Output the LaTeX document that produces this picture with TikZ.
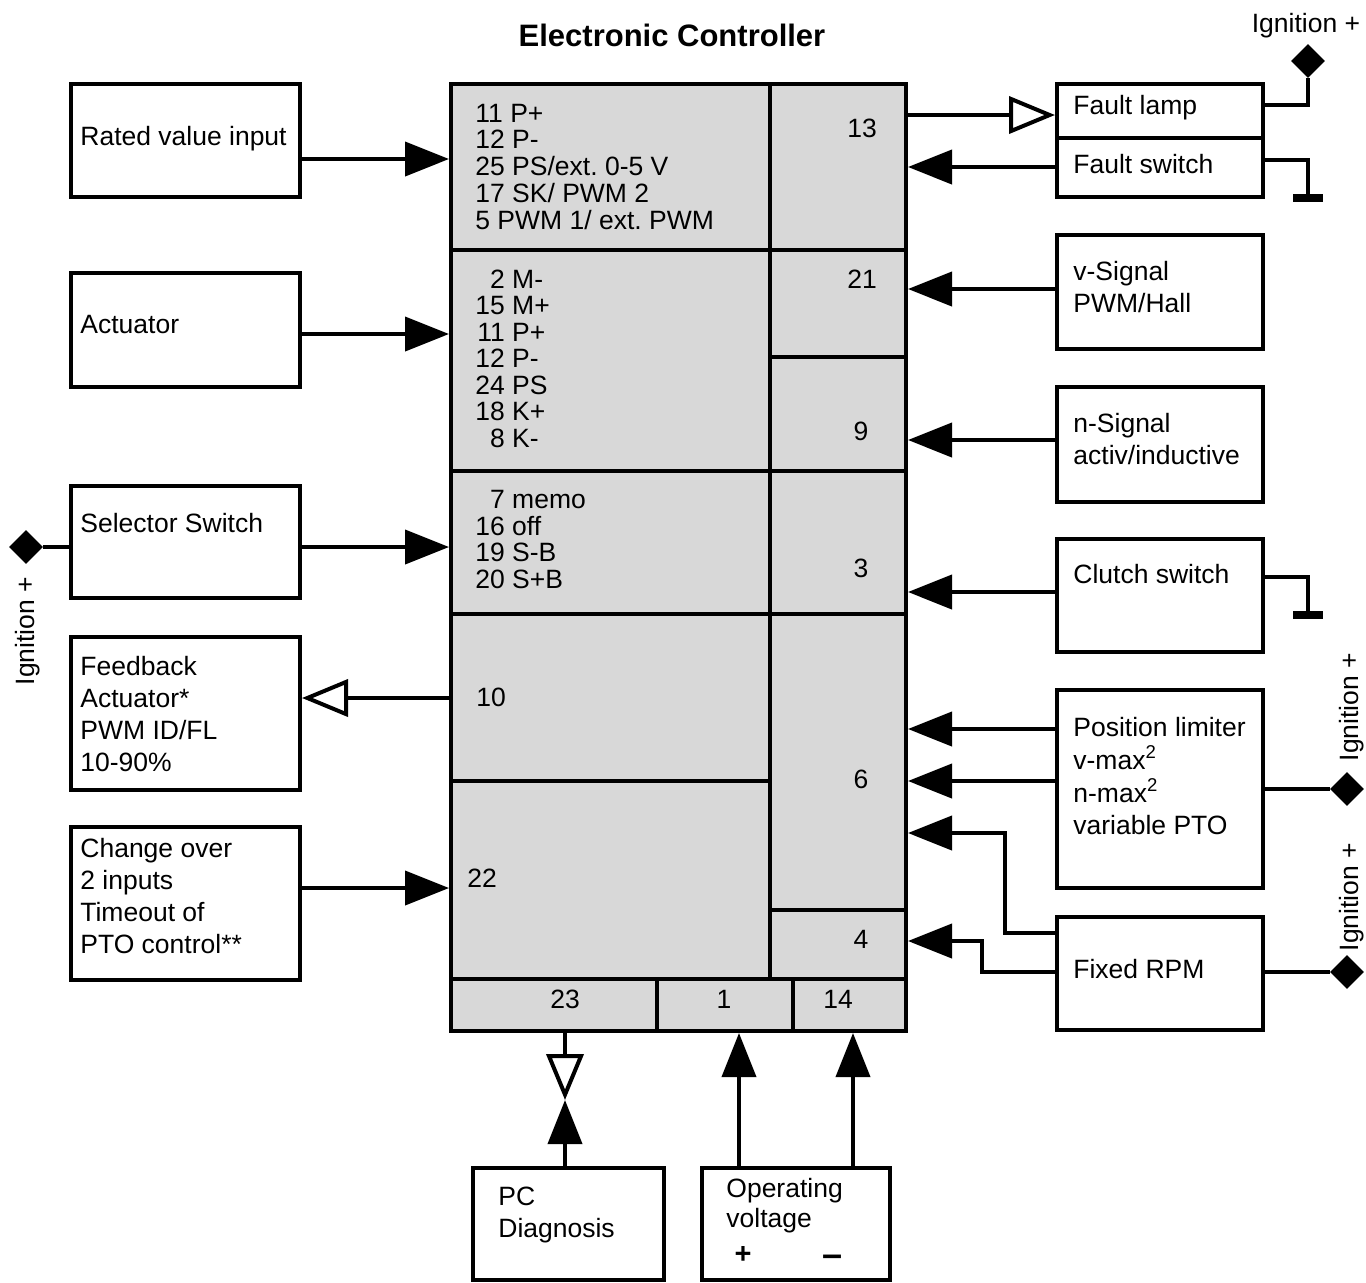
\documentclass[tikz,border=0pt]{standalone}
\usepackage{fontspec}
\setmainfont{Liberation Sans}
\usetikzlibrary{arrows.meta,shapes.geometric,fit}
\definecolor{cellgray}{RGB}{216,216,216}
\frenchspacing
\begin{document}
\begin{tikzpicture}[x=0.5pt,y=-0.5pt,
  cell/.style={draw, fill=cellgray, line width=2pt, inner sep=0pt},
  box/.style={draw, line width=2pt, inner sep=0pt},
  txt/.style={anchor=base west, inner sep=0pt, font=\fontsize{13.25}{16}\selectfont},
  lst/.style={anchor=base west, inner sep=0pt, font=\fontsize{13.25}{13.25}\selectfont},
  num/.style={anchor=base, inner sep=0pt, font=\fontsize{13.25}{16}\selectfont},
  arr/.style={line width=2pt, -{Triangle[length=22pt,width=17pt]}},
  oarr/.style={line width=2pt, -{Triangle[open,length=23pt,width=18.5pt]}},
  wire/.style={line width=2pt},
  gbar/.style={line width=4pt},
  dia/.style={diamond, fill=black, inner sep=0pt, minimum width=17pt, minimum height=17pt},
  rot/.style={rotate=90, inner sep=0pt, font=\fontsize{13.25}{16}\selectfont},
]
\useasboundingbox (0,0) rectangle (1366,1282);

% title
\node[anchor=base, inner sep=0pt, font=\bfseries\fontsize{15.5}{18}\selectfont] (title) at (672,46) {Electronic Controller};

% controller cells
\node[cell, fit={(451,84)(770,250)}] (r1) {};
\node[cell, fit={(451,250)(770,471)}] (r2) {};
\node[cell, fit={(451,471)(770,614)}] (r3) {};
\node[cell, fit={(451,614)(770,781)}] (r10) {};
\node[cell, fit={(451,781)(770,979)}] (r22) {};
\node[cell, fit={(770,84)(906,250)}] (c13) {};
\node[cell, fit={(770,250)(906,357)}] (c21) {};
\node[cell, fit={(770,357)(906,471)}] (c9) {};
\node[cell, fit={(770,471)(906,614)}] (c3) {};
\node[cell, fit={(770,614)(906,910)}] (c6) {};
\node[cell, fit={(770,910)(906,979)}] (c4) {};
\node[cell, fit={(451,979)(657,1031)}] (b23) {};
\node[cell, fit={(657,979)(793,1031)}] (b1) {};
\node[cell, fit={(793,979)(906,1031)}] (b14) {};

% controller texts
\node[lst] (t1) at (475,122) {\begin{tabular}[t]{@{}l@{}}11 P+\\12 P-\\25 PS/ext. 0-5 V\\17 SK/ PWM 2\\5 PWM 1/ ext. PWM\end{tabular}};
\node[lst] (t2) at (475,288) {\begin{tabular}[t]{@{}r@{\ }l@{}}2&M-\\15&M+\\11&P+\\12&P-\\24&PS\\18&K+\\8&K-\end{tabular}};
\node[lst] (t3) at (475,508) {\begin{tabular}[t]{@{}r@{\ }l@{}}7&memo\\16&off\\19&S-B\\20&S+B\end{tabular}};
\node[txt] (t10) at (476,706) {10};
\node[txt] (t22) at (467,887) {22};
\node[num] (n13) at (862,137) {13};
\node[num] (n21) at (862,288) {21};
\node[num] (n9) at (861,440) {9};
\node[num] (n3) at (861,577) {3};
\node[num] (n6) at (861,788) {6};
\node[num] (n4) at (861,948) {4};
\node[num] (n23) at (565,1008) {23};
\node[num] (n1) at (724,1008) {1};
\node[num] (n14) at (838,1008) {14};

% left boxes
\node[box, fit={(71,84)(300,197)}] (rated) {};
\node[txt] (trated) at (80,145) {Rated value input};
\node[box, fit={(71,273)(300,387)}] (act) {};
\node[txt] (tact) at (80,333) {Actuator};
\node[box, fit={(71,486)(300,598)}] (sel) {};
\node[txt] (tsel) at (80,532) {Selector Switch};
\node[box, fit={(71,637)(300,790)}] (fb) {};
\node[txt] (tfb) at (80,675) {\begin{tabular}[t]{@{}l@{}}Feedback\\Actuator*\\PWM ID/FL\\10-90\%\end{tabular}};
\node[box, fit={(71,827)(300,980)}] (co) {};
\node[txt] (tco) at (80,857) {\begin{tabular}[t]{@{}l@{}}Change over\\2 inputs\\Timeout of\\PTO control**\end{tabular}};

% right boxes
\node[box, fit={(1057,84)(1263,138)}] (fl) {};
\node[txt] (tfl) at (1073,114) {Fault lamp};
\node[box, fit={(1057,138)(1263,197)}] (fs) {};
\node[txt] (tfs) at (1073,173) {Fault switch};
\node[box, fit={(1057,235)(1263,349)}] (vs) {};
\node[txt] (tvs) at (1073,280) {\begin{tabular}[t]{@{}l@{}}v-Signal\\PWM/Hall\end{tabular}};
\node[box, fit={(1057,387)(1263,502)}] (ns) {};
\node[txt] (tns) at (1073,432) {\begin{tabular}[t]{@{}l@{}}n-Signal\\activ/inductive\end{tabular}};
\node[box, fit={(1057,539)(1263,652)}] (cs) {};
\node[txt] (tcs) at (1073,583) {Clutch switch};
\node[box, fit={(1057,690)(1263,888)}] (pl) {};
\node[txt] (tpl) at (1073,736) {\begin{tabular}[t]{@{}l@{}}Position limiter\\v-max\textsuperscript{2}\\n-max\textsuperscript{2}\\variable PTO\end{tabular}};
\node[box, fit={(1057,917)(1263,1030)}] (rpm) {};
\node[txt] (trpm) at (1073,978) {Fixed RPM};

% bottom boxes
\node[box, fit={(473,1168)(664,1280)}] (pc) {};
\node[txt] (tpc) at (498,1205) {\begin{tabular}[t]{@{}l@{}}PC\\Diagnosis\end{tabular}};
\node[box, fit={(702,1168)(890,1280)}] (op) {};
\node[txt, font=\fontsize{13.25}{15}\selectfont] (top) at (726,1197) {\begin{tabular}[t]{@{}l@{}}Operating\\voltage\end{tabular}};
\node[inner sep=0pt, font=\bfseries\fontsize{14.5}{16}\selectfont] (plus) at (743,1255) {+};
\node[inner sep=0pt, font=\bfseries\fontsize{18}{18}\selectfont] (minus) at (833,1261) {–};

% ignition labels and diamonds
\node[anchor=base, inner sep=0pt, font=\fontsize{13.25}{16}\selectfont] (ig0) at (1306,32) {Ignition +};
\node[rot] (ig1) at (28,631) {Ignition +};
\node[rot] (ig2) at (1352,707) {Ignition +};
\node[rot] (ig3) at (1352,897) {Ignition +};
\node[dia] (d1) at (1308,61) {};
\node[dia] (d2) at (26,547) {};
\node[dia] (d3) at (1347,789) {};
\node[dia] (d4) at (1347,972) {};
\coordinate (g1) at (1308,198);
\coordinate (g2) at (1308,615);

% left connectors
\draw[arr] (rated.east |- 0,159) -- (r1.west |- 0,159);
\draw[arr] (act.east |- 0,334) -- (r2.west |- 0,334);
\draw[arr] (sel.east |- 0,547) -- (r3.west |- 0,547);
\draw[oarr] (r10.west |- 0,698) -- (fb.east |- 0,698);
\draw[arr] (co.east |- 0,888) -- (r22.west |- 0,888);
\draw[wire] (d2) -- (sel.west |- d2);

% right connectors
\draw[oarr] (c13.east |- 0,115) -- (fl.west |- 0,115);
\draw[arr] (fs.west |- 0,167) -- (c13.east |- 0,167);
\draw[arr] (vs.west |- 0,289) -- (c21.east |- 0,289);
\draw[arr] (ns.west |- 0,440) -- (c9.east |- 0,440);
\draw[arr] (cs.west |- 0,592) -- (c3.east |- 0,592);
\draw[arr] (pl.west |- 0,729) -- (c6.east |- 0,729);
\draw[arr] (pl.west |- 0,781) -- (c6.east |- 0,781);
\draw[arr] (rpm.west |- 0,933) -| (1005,833) -- (c6.east |- 0,833);
\draw[arr] (rpm.west |- 0,972) -| (982,941) -- (c4.east |- 0,941);

\draw[wire] (fl.east |- 0,105) -| (d1.south);
\draw[wire] (fs.east |- 0,160) -| (g1);
\draw[gbar] ([xshift=-7.5pt]g1) -- ([xshift=7.5pt]g1);
\draw[wire] (cs.east |- 0,577) -| (g2);
\draw[gbar] ([xshift=-7.5pt]g2) -- ([xshift=7.5pt]g2);
\draw[wire] (pl.east |- d3) -- (d3);
\draw[wire] (rpm.east |- d4) -- (d4);

% bottom connectors
\coordinate (pcm) at (565,1100);
\draw[arr] (pcm |- pc.north) -- (pcm);
\draw[oarr] (pcm |- b23.south) -- (pcm);
\draw[arr] (739,0 |- op.north) -- (739,0 |- b1.south);
\draw[arr] (853,0 |- op.north) -- (853,0 |- b14.south);
\end{tikzpicture}
\end{document}
